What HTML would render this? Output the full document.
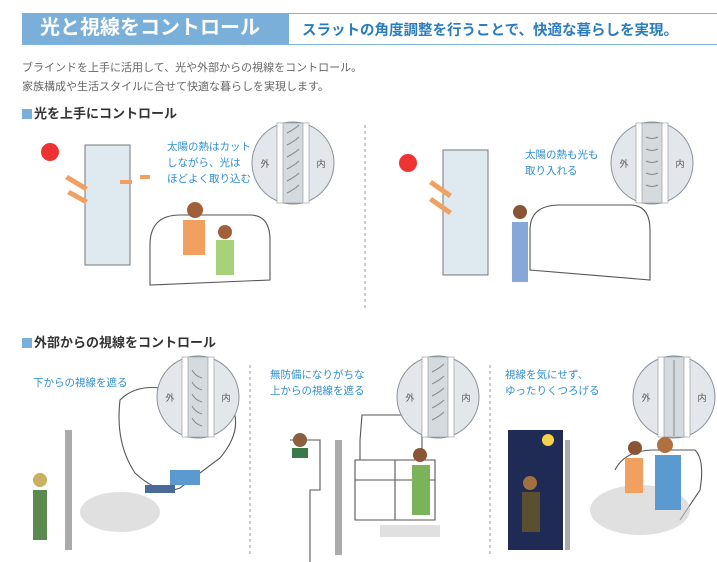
<!DOCTYPE html>
<html><head><meta charset="utf-8"><style>
body{margin:0;width:717px;height:562px;background:#fff;position:relative;overflow:hidden;font-family:"Liberation Sans","Noto Sans CJK JP",sans-serif}
.a{position:absolute;white-space:nowrap}
.b{color:#2f8fd0;font-size:10.5px;line-height:16px}
.sq{display:inline-block;width:10px;height:10px;background:#7aafd9;margin-right:2px;vertical-align:-1px}
</style></head><body>
<div class="a" style="left:22px;top:13px;width:695px;height:30px;border-top:1px solid #7fb3da;border-bottom:1px solid #7fb3da"></div>
<div class="a" style="left:22px;top:13px;width:267px;height:31px;background:#7aafd9;color:#fff;font-size:20px;line-height:31px;padding-left:18px;box-sizing:border-box;font-weight:bold">光と視線をコントロール</div>
<div class="a" style="left:302px;top:19px;color:#2a7cc0;font-size:14.5px;font-weight:bold">スラットの角度調整を行うことで、快適な暮らしを実現。</div>
<div class="a" style="left:22px;top:59px;color:#666;font-size:11px;line-height:19px">ブラインドを上手に活用して、光や外部からの視線をコントロール。<br>家族構成や生活スタイルに合せて快適な暮らしを実現します。</div>
<div class="a" style="left:22px;top:103px;font-size:13px;font-weight:bold;color:#333"><span class="sq"></span>光を上手にコントロール</div>
<div class="a" style="left:22px;top:332px;font-size:13px;font-weight:bold;color:#333"><span class="sq"></span>外部からの視線をコントロール</div>
<div class="a b" style="left:167px;top:139px">太陽の熱はカット<br>しながら、光は<br>ほどよく取り込む</div>
<div class="a b" style="left:525px;top:147px">太陽の熱も光も<br>取り入れる</div>
<div class="a b" style="left:33px;top:375px">下からの視線を遮る</div>
<div class="a b" style="left:270px;top:367px">無防備になりがちな<br>上からの視線を遮る</div>
<div class="a b" style="left:505px;top:367px">視線を気にせず、<br>ゆったりくつろげる</div>
<svg class="a" style="left:0;top:0" width="717" height="562">
<defs>
<g id="c">
<circle r="41" fill="#e3e6ea" stroke="#8a939c" stroke-width="1"/>
<rect x="-16" y="-40" width="32" height="80" fill="#fff" stroke="#8a939c" stroke-width=".6"/>
<rect x="-10" y="-40" width="20" height="80" fill="#d5dade" stroke="#8a939c" stroke-width=".6"/>
<text x="-28" y="4" font-size="9" fill="#555" text-anchor="middle" font-family="Noto Sans CJK JP">外</text>
<text x="28" y="4" font-size="9" fill="#555" text-anchor="middle" font-family="Noto Sans CJK JP">内</text>
</g>
</defs>
<g fill="none" stroke="#555" stroke-width="1.1">
<path d="M150 285v-40q0-30 30-30h70q20 0 20 25v40z"/>
<path d="M530 270v-40q0-25 30-25h70q20 0 20 25v50z"/>
<path d="M120 400q15-15 40-12l70 15q15 25-10 55l-40 30q-20 8-45-15q-20-30-15-73z"/>
<path d="M355 460h80v60h-80zM355 480h80M395 460v60"/>
<path d="M360 460v-20l2-25h60v45"/>
<path d="M615 470q10-20 40-20h40q10 10 5 40l-20 30"/>
<path d="M290 440h30v50h-10v75"/>
</g>
<use href="#c" x="293" y="163"/><use href="#c" x="652" y="163"/>
<use href="#c" x="198" y="397"/><use href="#c" x="438" y="397"/><use href="#c" x="674" y="397"/>
<g stroke="#888" stroke-width="1" fill="none">
<path d="M287 133q8-4 12-8M287 145q8-4 12-8M287 157q8-4 12-8M287 169q8-4 12-8M287 181q8-4 12-8M287 193q8-4 12-8"/>
<path d="M646 137q6 3 12 0M646 149q6 3 12 0M646 161q6 3 12 0M646 173q6 3 12 0M646 185q6 3 12 0"/>
<path d="M192 370q3 6 10 8M192 382q3 6 10 8M192 394q3 6 10 8M192 406q3 6 10 8M192 418q3 6 10 8"/>
<path d="M432 372q8-4 12-8M432 384q8-4 12-8M432 396q8-4 12-8M432 408q8-4 12-8M432 420q8-4 12-8"/>
<path d="M674 360v76"/>
</g>
<g stroke="#999" stroke-dasharray="3 3"><path d="M365 125v185M250 365v190M490 365v190"/></g>
<rect x="85" y="145" width="45" height="120" fill="#dfe9f0" stroke="#777"/>
<rect x="443" y="150" width="45" height="125" fill="#dfe9f0" stroke="#777"/>
<circle cx="50" cy="152" r="9" fill="#e33"/><circle cx="408" cy="163" r="9" fill="#e33"/>
<g fill="#f0a060"><path d="M68 175l20 12-3 4-20-12z"/><path d="M70 190l18 10-3 4-18-10z"/><path d="M432 180l20 14-3 4-20-14z"/><path d="M432 197l20 14-3 4-20-14z"/><path d="M120 180l12 0 0 4-12 0zM140 175l10 0 0 4-10 0z"/></g>
<g fill="#ccc" opacity=".6"><ellipse cx="120" cy="512" rx="40" ry="20"/><ellipse cx="640" cy="510" rx="50" ry="25"/><rect x="380" y="525" width="60" height="12"/></g>
<g><rect x="65" y="430" width="7" height="120" fill="#aaa"/><rect x="335" y="440" width="7" height="115" fill="#aaa"/><rect x="565" y="440" width="5" height="110" fill="#aaa"/></g>
<rect x="508" y="430" width="55" height="120" fill="#1f2a55"/>
<circle cx="548" cy="440" r="6" fill="#f4d34a"/>
<g>
<circle cx="195" cy="210" r="8" fill="#a0603a"/><rect x="183" y="220" width="22" height="35" fill="#f1a060"/>
<circle cx="225" cy="232" r="7" fill="#a0603a"/><rect x="216" y="240" width="18" height="35" fill="#a8d27a"/>
<circle cx="520" cy="212" r="7" fill="#8a5535"/><rect x="512" y="222" width="16" height="60" fill="#86a7d8"/>
<circle cx="40" cy="480" r="7" fill="#cbb060"/><rect x="33" y="490" width="14" height="50" fill="#5a8a50"/>
<circle cx="300" cy="440" r="7" fill="#8a6040"/><rect x="292" y="448" width="16" height="10" fill="#3a7a4a"/>
<circle cx="420" cy="455" r="7" fill="#8a5535"/><rect x="412" y="465" width="18" height="50" fill="#7bb35a"/>
<circle cx="530" cy="483" r="7" fill="#a07040"/><rect x="522" y="492" width="18" height="40" fill="#5a5030"/>
<circle cx="635" cy="448" r="7" fill="#8a5535"/><rect x="625" y="458" width="18" height="35" fill="#f1a060"/>
<circle cx="665" cy="445" r="8" fill="#b07040"/><rect x="655" y="455" width="26" height="55" fill="#5b9ad0"/>
<rect x="170" y="470" width="30" height="15" fill="#5b9ad0"/><rect x="145" y="485" width="30" height="8" fill="#4a6a9a"/>
</g>
</svg>
</body></html>
